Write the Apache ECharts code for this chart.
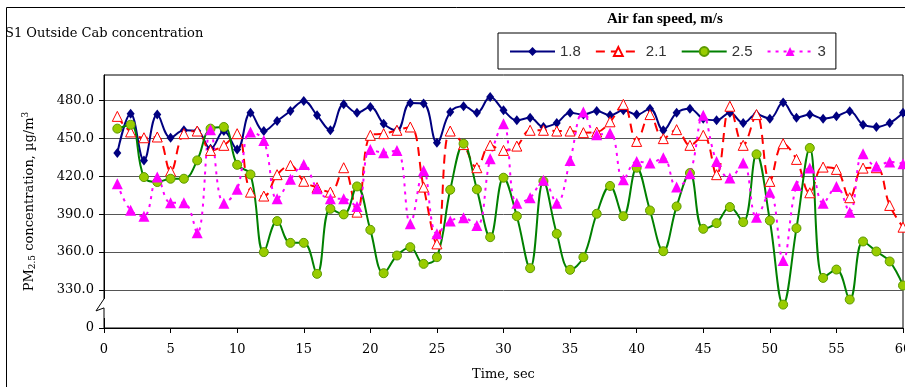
<!DOCTYPE html>
<html>
<head>
<meta charset="utf-8">
<script src="https://cdn.jsdelivr.net/npm/echarts@6/dist/echarts.min.js"></script>
<style>
  html, body { margin: 0; padding: 0; background: #fff; }
  #chart { width: 905px; height: 387px; }
</style>
</head>
<body>
<div id="chart"></div>
<script>
// time, sec
const times = [1, 2, 3, 4, 5, 6, 7, 8, 9, 10, 11, 12, 13, 14, 15, 16, 17, 18, 19, 20,
  21, 22, 23, 24, 25, 26, 27, 28, 29, 30, 31, 32, 33, 34, 35, 36, 37, 38, 39, 40,
  41, 42, 43, 44, 45, 46, 47, 48, 49, 50, 51, 52, 53, 54, 55, 56, 57, 58, 59, 60];

// PM2.5 concentration per air fan speed
const speed18 = [438.3, 469.4, 432.5, 468.7, 450.4, 456.3, 455.7, 441.7, 455.7, 441.2,
  470.2, 455.7, 463.6, 471.6, 479.5, 468.1, 456.3, 476.8, 470.2, 474.7,
  461.5, 456.3, 477.9, 477.4, 446.5, 470.8, 475.3, 470.2, 482.6, 472.1,
  464.2, 466.3, 458.9, 462.1, 470.2, 468.7, 471.6, 468.1, 472.1, 468.7,
  473.4, 456.3, 470.2, 473.4, 465.5, 464.2, 470.2, 462.1, 468.7, 465.5,
  478.2, 466.3, 468.7, 465.5, 467.3, 471.3, 460.7, 458.9, 462.1, 470.2];
const speed21 = [467.3, 455.0, 450.4, 451.0, 424.0, 453.6, 455.7, 440.4, 444.4, 453.6,
  407.4, 404.3, 421.2, 428.5, 416.0, 411.0, 407.4, 426.7, 391.6, 452.3,
  453.6, 456.3, 458.9, 411.4, 366.5, 455.7, 445.0, 426.7, 444.4, 440.4,
  443.8, 456.3, 456.3, 455.7, 455.7, 454.4, 454.9, 463.0, 476.8, 447.5,
  468.7, 449.7, 456.8, 444.4, 452.3, 421.2, 475.3, 444.4, 468.7, 415.9,
  445.7, 433.3, 406.9, 427.2, 425.4, 403.0, 426.4, 426.7, 396.9, 379.7];
const speed25 = [457.6, 460.7, 419.3, 415.4, 418.0, 418.0, 432.5, 457.6, 458.9, 429.0,
  421.4, 360.0, 384.5, 367.3, 367.3, 342.8, 394.2, 389.8, 411.9, 377.6,
  343.3, 357.3, 363.9, 350.7, 356.0, 409.3, 445.7, 409.6, 371.8, 418.8,
  388.4, 347.3, 416.1, 374.5, 346.0, 356.0, 390.3, 412.3, 388.4, 426.7,
  392.9, 360.7, 396.1, 422.5, 378.4, 382.9, 395.6, 383.7, 437.3, 385.0,
  318.5, 378.9, 442.3, 339.6, 346.2, 322.5, 368.4, 360.5, 352.6, 333.6];
const speed3 = [414.0, 393.0, 388.4, 419.3, 399.0, 399.0, 375.3, 456.8, 398.7, 409.6,
  455.0, 448.3, 402.2, 417.5, 429.3, 410.1, 402.2, 402.2, 396.1, 441.2,
  438.6, 440.4, 382.4, 424.6, 374.5, 384.5, 387.1, 381.1, 433.8, 461.5,
  398.7, 403.0, 416.7, 398.7, 432.5, 470.8, 452.8, 454.1, 417.2, 431.7,
  430.4, 434.6, 411.4, 422.0, 468.1, 431.7, 418.5, 430.4, 387.6, 407.4,
  353.4, 412.7, 426.4, 398.7, 411.9, 391.6, 437.8, 427.8, 431.2, 429.9];

const seriesNames = ['1.8', '2.1', '2.5', '3'];
const yTicks = [300, 330, 360, 390, 420, 450, 480];

const pairs = (vals) => vals.map((v, i) => [times[i], v]);

const serif = 'DejaVu Serif';

const chart = echarts.init(document.getElementById('chart'));

const option = {
  animation: false,
  backgroundColor: '#fff',
  title: [
    {
      text: 'S1 Outside Cab concentration',
      left: 5,
      top: 27,
      padding: 0,
      textStyle: { fontFamily: serif, fontSize: 13, fontWeight: 'normal', color: '#000' },
    },
    {
      text: 'Air fan speed, m/s',
      left: 607,
      top: 12,
      padding: 0,
      textStyle: { fontFamily: 'Liberation Serif', fontSize: 15, fontWeight: 'bold', color: '#000' },
    },
  ],
  legend: {
    data: seriesNames,
    left: 498,
    top: 33,
    padding: [11, 10, 10, 11],
    itemWidth: 45,
    itemHeight: 11,
    itemGap: 14,
    borderColor: '#000',
    borderWidth: 1,
    textStyle: { fontFamily: 'Liberation Sans', fontSize: 15, color: '#333' },
  },
  grid: {
    left: 104,
    right: 2,
    top: 75,
    bottom: 59,
    outerBoundsMode: 'none',
    show: true,
    borderColor: '#000',
    borderWidth: 1,
    backgroundColor: 'transparent',
  },
  xAxis: {
    type: 'value',
    min: 0,
    max: 60,
    interval: 5,
    name: 'Time, sec',
    nameLocation: 'middle',
    nameGap: 40,
    nameTextStyle: { fontFamily: serif, fontSize: 13, color: '#000' },
    axisLine: { lineStyle: { color: '#000', width: 1 } },
    axisTick: { show: true, length: 5, lineStyle: { color: '#000' } },
    axisLabel: { fontFamily: serif, fontSize: 13, color: '#000', margin: 15 },
    splitLine: { show: false },
  },
  yAxis: {
    type: 'value',
    min: 300,
    max: 500,
    interval: 30,
    name: 'PM{sub|2.5} concentration, µg/m{sup|3}',
    nameLocation: 'middle',
    nameGap: 66,
    nameTextStyle: {
      fontFamily: serif,
      fontSize: 13,
      color: '#000',
      rich: {
        sub: { fontFamily: serif, fontSize: 9, color: '#000', padding: [6, 0, 0, 0] },
        sup: { fontFamily: serif, fontSize: 9, color: '#000', padding: [0, 0, 8, 0] },
      },
    },
    axisLine: { show: true, lineStyle: { color: '#000', width: 1 } },
    axisTick: { show: true, length: 5, customValues: yTicks, lineStyle: { color: '#000' } },
    axisLabel: {
      fontFamily: serif,
      fontSize: 13,
      color: '#000',
      margin: 10,
      customValues: yTicks,
      formatter: (v) => (v === 300 ? '0' : v.toFixed(1)),
    },
    splitLine: { show: true, lineStyle: { color: '#555', width: 1 } },
  },
  series: [
    {
      name: '1.8',
      type: 'line',
      data: pairs(speed18),
      smooth: 0.4,
      symbol: 'diamond',
      symbolSize: [8, 10],
      lineStyle: { color: '#000080', width: 2 },
      itemStyle: { color: '#000080' },
    },
    {
      name: '2.1',
      type: 'line',
      data: pairs(speed21),
      smooth: 0.4,
      symbol: 'triangle',
      symbolSize: 10,
      lineStyle: { color: '#FF0000', width: 2, type: [9, 6] },
      itemStyle: { color: '#fff', borderColor: '#FF0000', borderWidth: 1 },
    },
    {
      name: '2.5',
      type: 'line',
      data: pairs(speed25),
      smooth: 0.4,
      symbol: 'circle',
      symbolSize: 9,
      lineStyle: { color: '#008000', width: 2 },
      itemStyle: { color: '#99CC00', borderColor: '#5c9a00', borderWidth: 1 },
    },
    {
      name: '3',
      type: 'line',
      data: pairs(speed3),
      smooth: 0.4,
      symbol: 'triangle',
      symbolSize: 11,
      lineStyle: { color: '#FF00FF', width: 2, type: [3, 5] },
      itemStyle: { color: '#FF00FF' },
    },
  ],
};

chart.setOption(option);

// outer frame + axis break mark
const breakTop = chart.convertToPixel({ gridIndex: 0 }, [0, 323]);
const breakBot = chart.convertToPixel({ gridIndex: 0 }, [0, 308]);
const ax = breakTop[0];
chart.setOption({
  graphic: [
    {
      type: 'rect',
      silent: true,
      shape: { x: 6.5, y: 7.5, width: 1000, height: 500 },
      style: { fill: 'none', stroke: '#000', lineWidth: 1 },
    },
    {
      type: 'rect',
      silent: true,
      z: 100,
      shape: { x: ax - 2, y: breakTop[1], width: 4, height: breakBot[1] - breakTop[1] },
      style: { fill: '#fff' },
    },
    {
      type: 'polyline',
      silent: true,
      z: 101,
      shape: {
        points: [[ax, breakTop[1]], [ax - 8, breakTop[1] + 12], [ax, breakTop[1] + 9], [ax, breakBot[1]]],
      },
      style: { fill: 'none', stroke: '#000', lineWidth: 1 },
    },
  ],
});
</script>
</body>
</html>
